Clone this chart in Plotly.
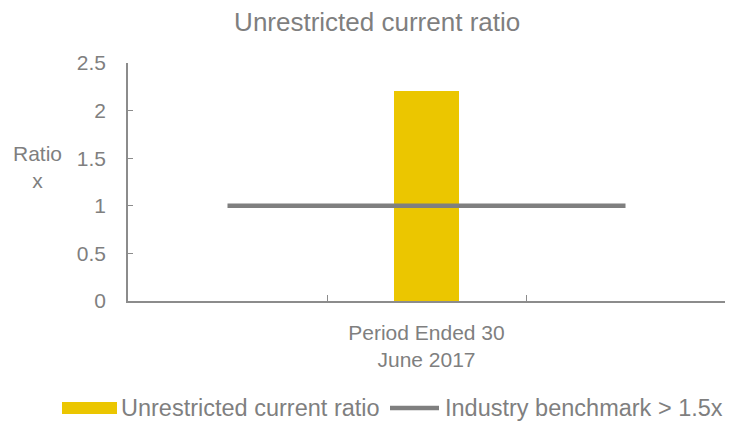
import plotly.graph_objects as go

# Chart data
categories = [" ", "Period Ended 30<br>June 2017", "  "]
ratio_values = [2.21]
benchmark_values = [1, 1, 1]
y_ticks = [0, 0.5, 1, 1.5, 2, 2.5]
y_tick_labels = ["0", "0.5", "1", "1.5", "2", "2.5"]
series_names = ["Unrestricted current ratio", "Industry benchmark > 1.5x"]

BAR_COLOR = "#EBC600"
LINE_COLOR = "#7F7F7F"
AXIS_COLOR = "#8C8C8C"
TEXT_COLOR = "#7F7F7F"
FONT = "Liberation Sans, Arial, sans-serif"

W, H = 741, 425
ML, MR, MT, MB = 128, 16, 63, 124
PW, PH = W - ML - MR, H - MT - MB


def px_x(px):
    """Pixel column -> paper x."""
    return (px - ML) / PW


def px_y(py):
    """Pixel row -> paper y."""
    return (H - MB - py) / PH


fig = go.Figure()

fig.add_trace(go.Bar(
    x=[categories[1]], y=ratio_values, name=series_names[0],
    marker=dict(color=BAR_COLOR, line=dict(width=0)),
    width=0.33, showlegend=False,
))

fig.add_trace(go.Scatter(
    x=categories, y=benchmark_values, mode="lines", name=series_names[1],
    line=dict(color=LINE_COLOR, width=4.5), showlegend=False,
))

# Legend row along the bottom: swatches drawn as shapes, labels as annotations
legend_y = 408
shapes = [
    dict(type="rect", xref="paper", yref="paper",
         x0=px_x(62), x1=px_x(117), y0=px_y(414), y1=px_y(402),
         fillcolor=BAR_COLOR, line=dict(width=0)),
    dict(type="line", xref="paper", yref="paper",
         x0=px_x(390), x1=px_x(439), y0=px_y(legend_y), y1=px_y(legend_y),
         line=dict(color=LINE_COLOR, width=4.5)),
]

annotations = [
    dict(text="Ratio<br>x", xref="paper", yref="paper",
         x=px_x(37), y=px_y(167), xanchor="center", yanchor="middle",
         showarrow=False, font=dict(size=21, color=TEXT_COLOR)),
    dict(text=series_names[0], xref="paper", yref="paper",
         x=px_x(119), y=px_y(legend_y), xanchor="left", yanchor="middle",
         showarrow=False, font=dict(size=23.5, color=TEXT_COLOR)),
    dict(text=series_names[1], xref="paper", yref="paper",
         x=px_x(443), y=px_y(legend_y), xanchor="left", yanchor="middle",
         showarrow=False, font=dict(size=23.5, color=TEXT_COLOR)),
]

fig.update_layout(
    width=W, height=H,
    margin=dict(l=ML, r=MR, t=MT, b=MB),
    paper_bgcolor="white", plot_bgcolor="white",
    font=dict(family=FONT, color=TEXT_COLOR, size=21),
    showlegend=False,
    title=dict(text="Unrestricted current ratio", x=0.509, xanchor="center",
               y=0.948, yanchor="middle", font=dict(size=26, color=TEXT_COLOR)),
    xaxis=dict(
        type="category", categoryorder="array", categoryarray=categories,
        range=[-0.5, 2.5], tickson="boundaries", ticks="inside", ticklen=6,
        tickcolor=AXIS_COLOR, showline=True, linecolor=AXIS_COLOR, linewidth=1.5,
        showgrid=False, tickfont=dict(size=21, color=TEXT_COLOR),
        ticklabelstandoff=12,
    ),
    yaxis=dict(
        range=[0, 2.5], tickvals=y_ticks, ticktext=y_tick_labels,
        ticks="inside", ticklen=5, tickcolor=AXIS_COLOR,
        showline=True, linecolor=AXIS_COLOR, linewidth=1.5,
        showgrid=False, zeroline=False, tickfont=dict(size=21, color=TEXT_COLOR),
        ticklabelstandoff=16,
    ),
    bargap=0,
    shapes=shapes,
    annotations=annotations,
)

fig.write_html("out.html")
